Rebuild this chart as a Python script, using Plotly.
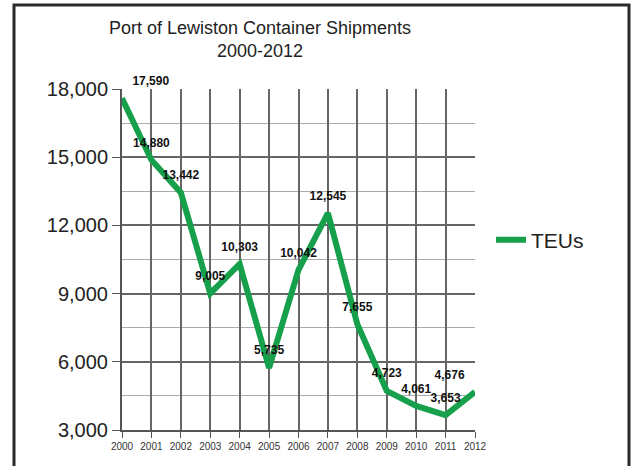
import plotly.graph_objects as go

years = [2000, 2001, 2002, 2003, 2004, 2005, 2006, 2007, 2008, 2009, 2010, 2011, 2012]
teus = [17590, 14880, 13442, 9005, 10303, 5735, 10042, 12545, 7655, 4723, 4061, 3653, 4676]
labels = ["17,590", "14,880", "13,442", "9,005", "10,303", "5,735", "10,042",
          "12,545", "7,655", "4,723", "4,061", "3,653", "4,676"]
positions = ["top right"] + ["top center"] * 11 + ["top left"]
y_ticks = [3000, 6000, 9000, 12000, 15000, 18000]
y_tick_text = ["3,000", "6,000", "9,000", "12,000", "15,000", "18,000"]
odd_years = [2001, 2003, 2005, 2007, 2009, 2011]

W, H = 631, 466
# plot area in page pixels: x 122..475, y 89..430
PL, PR, PT, PB = 122, 475, 89, 430
L, T, R, B = PL, PT, W - PR, H - PB
pw, ph = PR - PL, PB - PT

def px(xp):
    return (xp - PL) / pw

def py(yp):
    return (PB - yp) / ph

fig = go.Figure()
fig.add_trace(go.Scatter(
    x=years, y=teus, mode="lines+markers+text", name="TEUs",
    line=dict(color="#17a04b", width=6),
    marker=dict(size=15, color="rgba(0,0,0,0)"),
    text=labels, textposition=positions,
    textfont=dict(family="Liberation Sans, Arial", size=12, color="#111"),
    texttemplate="<b>%{text}</b>",
    cliponaxis=False,
    hoverinfo="skip",
))

fig.add_shape(type="rect", xref="paper", yref="paper",
              x0=px(14), x1=px(629), y0=py(490), y1=py(5),
              line=dict(color="#2a2a2a", width=3), layer="below")

fig.update_layout(
    width=W, height=H,
    margin=dict(l=L, r=R, t=T, b=B),
    paper_bgcolor="white", plot_bgcolor="white",
    title=dict(text="Port of Lewiston Container Shipments<br>2000-2012",
               x=260 / W, xanchor="center", xref="container",
               y=1 - 34 / H, yanchor="top", yref="container",
               font=dict(family="Liberation Sans, Arial", size=18, color="#222")),
    showlegend=True,
    legend=dict(x=px(491), y=py(240), xanchor="left", yanchor="middle",
                font=dict(family="Liberation Sans, Arial", size=21, color="#222"),
                itemwidth=30, bgcolor="rgba(0,0,0,0)"),
    font=dict(family="Liberation Sans, Arial"),
    xaxis=dict(range=[2000, 2012], tickmode="array", tickvals=years,
               ticktext=[str(y) for y in years],
               tickfont=dict(size=10, color="#333"),
               showgrid=True, gridcolor="#666", gridwidth=2,
               showline=True, linecolor="#555", linewidth=2,
               ticks="outside", ticklen=6, tickcolor="#555", zeroline=False),
    xaxis2=dict(overlaying="x", anchor="y", range=[2000, 2012], tickmode="array",
                tickvals=odd_years, showticklabels=False, showgrid=True,
                gridcolor="#111", gridwidth=1, showline=False, zeroline=False,
                ticks=""),
    yaxis=dict(range=[3000, 18000], tickmode="array", tickvals=y_ticks,
               ticktext=y_tick_text,
               tickfont=dict(size=20, color="#222"),
               showgrid=True, gridcolor="#666", gridwidth=2,
               minor=dict(dtick=1500, tick0=3000, showgrid=True, gridcolor="#aaa", gridwidth=1),
               showline=True, linecolor="#555", linewidth=2,
               ticks="outside", ticklen=8, tickcolor="#555", zeroline=False,
               ticklabelstandoff=0),
)

fig.write_html("out.html", config={"displayModeBar": False},
               post_script="document.body.style.margin='0';document.body.style.overflow='hidden';")
